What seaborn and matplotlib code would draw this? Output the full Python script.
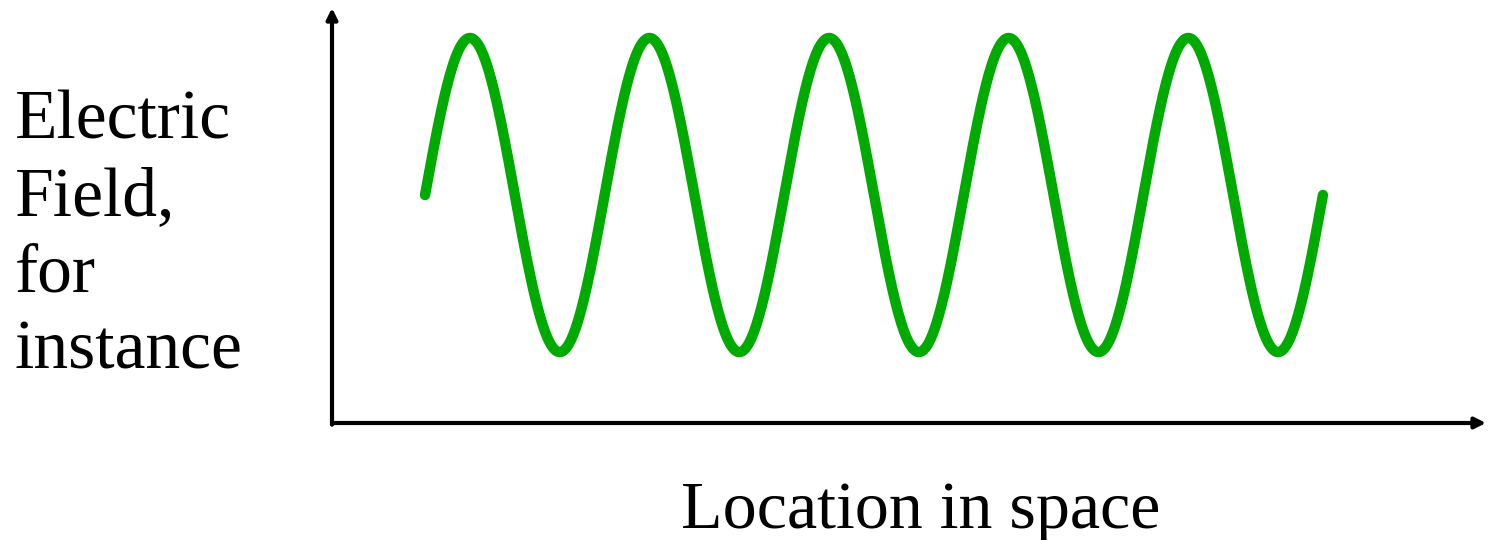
import numpy as np
import pandas as pd
import matplotlib
matplotlib.use('Agg')
import matplotlib.pyplot as plt
import seaborn as sns

# wave: 5 full cycles, starts at the midline going up
n_cycles = 5
amplitude = 1.0
n_samples = 1000

x_label = 'Location in space'
y_label = 'Electric\nField,\nfor\ninstance'

location = np.linspace(0, n_cycles, n_samples)
field = amplitude * np.sin(2 * np.pi * location)
df = pd.DataFrame({'location': location, 'field': field})

sns.set_style('white')
plt.rcParams['font.family'] = ['Liberation Serif', 'DejaVu Serif']
plt.rcParams['text.color'] = 'black'

fig = plt.figure(figsize=(14.88, 5.4), dpi=100)
ax = fig.add_axes([332 / 1488, 117 / 540, 1154 / 1488, 415 / 540])

sns.lineplot(data=df, x='location', y='field', color='#00aa00',
             linewidth=7.5, ax=ax, solid_capstyle='round')

ax.set_xlim(-0.518, 5.908)
ax.set_ylim(-1.452, 1.191)
ax.set_xlabel('')
ax.set_ylabel('')
ax.set_xticks([])
ax.set_yticks([])
for s in ax.spines.values():
    s.set_visible(False)

# axes drawn as arrows
arrow = dict(arrowstyle='-|>', color='black', lw=3, mutation_scale=16,
             shrinkA=0, shrinkB=0)
ax.annotate('', xy=(1, 0), xytext=(0, 0), xycoords='axes fraction',
            arrowprops=arrow)
ax.annotate('', xy=(0, 1), xytext=(0, -0.004), xycoords='axes fraction',
            arrowprops=arrow)

fig.text(921 / 1488, 1 - 528 / 540, x_label, ha='center', va='baseline',
         fontsize=49, color='black')
fig.text(15 / 1488, 1 - 90 / 540, y_label, ha='left', va='top',
         fontsize=50, linespacing=1.27, color='black')

fig.savefig('out.png', dpi=100)
